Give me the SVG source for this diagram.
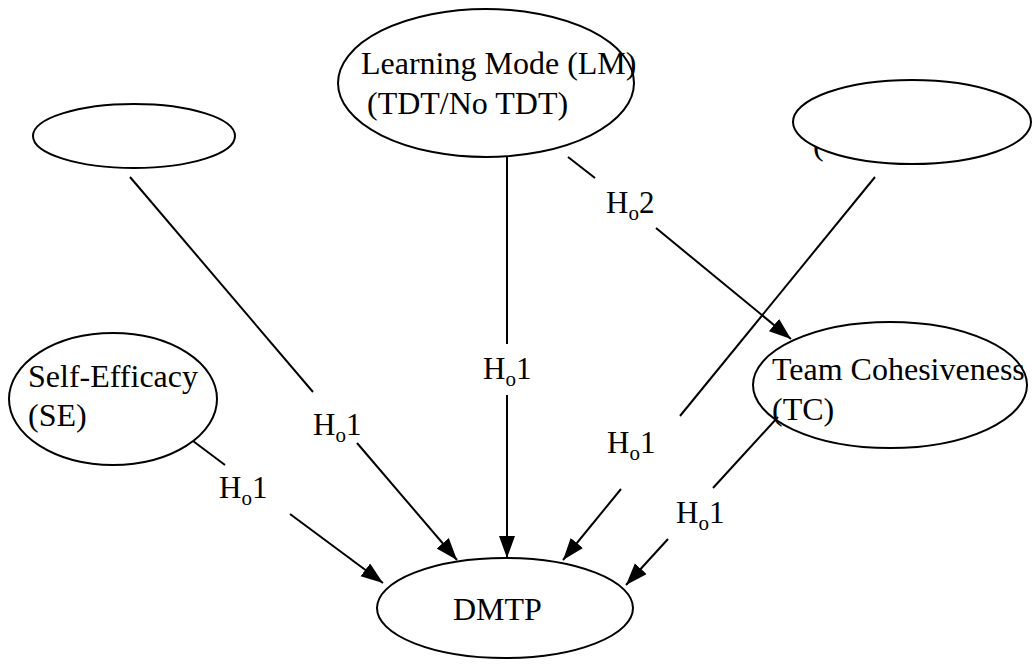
<svg xmlns="http://www.w3.org/2000/svg" width="1032" height="664" viewBox="0 0 1032 664">
<style>
.n{fill:#fff;stroke:#000;stroke-width:2}
.t{font-family:"Liberation Serif","Times New Roman",serif;font-size:32px;fill:#000}
.l{font-family:"Liberation Serif","Times New Roman",serif;font-size:31px;fill:#000}
.c line{stroke:#000;stroke-width:2}
.a{marker-end:url(#ah)}
</style>
<defs>
<marker id="ah" markerUnits="userSpaceOnUse" markerWidth="24" markerHeight="18" refX="22" refY="8" orient="auto">
<path d="M0,0 L22,8 L0,16 Z" fill="#000"/>
</marker>
</defs>
<rect width="1032" height="664" fill="#fff"/>
<g id="node-topleft"><ellipse class="n" cx="134" cy="136" rx="101" ry="32"/></g>
<g id="node-lm"><ellipse class="n" cx="486" cy="83" rx="148" ry="74"/>
<text class="t" x="361" y="74">Learning Mode (LM)</text>
<text class="t" x="367" y="114">(TDT/No TDT)</text></g>
<g id="node-topright"><text class="t" x="813" y="155">(</text><ellipse class="n" cx="912" cy="122" rx="119" ry="42"/></g>
<g id="node-se"><ellipse class="n" cx="113" cy="399" rx="104" ry="66"/>
<text class="t" x="28" y="387">Self-Efficacy</text>
<text class="t" x="28" y="426">(SE)</text></g>
<g id="node-tc"><ellipse class="n" cx="890" cy="385" rx="137" ry="63"/>
<text class="t" x="772" y="380">Team Cohesiveness</text>
<text class="t" x="772" y="420">(TC)</text></g>
<g id="node-dmtp"><ellipse class="n" cx="505" cy="608" rx="128" ry="50"/>
<text class="t" x="453" y="620">DMTP</text></g>
<g id="connectors" class="c">
<line x1="130" y1="177" x2="313" y2="392"/><line class="a" x1="357" y1="443" x2="457" y2="560"/>
<line x1="507" y1="157" x2="507" y2="344"/><line class="a" x1="507" y1="395" x2="507" y2="558"/>
<line x1="568" y1="157" x2="595" y2="178"/><line class="a" x1="656" y1="228" x2="791" y2="339"/>
<line x1="875" y1="177" x2="680" y2="416"/><line class="a" x1="621" y1="489" x2="563" y2="560"/>
<line x1="778" y1="417" x2="713" y2="488"/><line class="a" x1="668" y1="539" x2="626" y2="585"/>
<line x1="193" y1="441" x2="225" y2="465"/><line class="a" x1="290" y1="514" x2="383" y2="583"/>
</g>
<g id="labels">
<text class="l" x="313" y="435">H<tspan font-size="21" dy="7">o</tspan><tspan dy="-7">1</tspan></text>
<text class="l" x="483" y="379">H<tspan font-size="21" dy="7">o</tspan><tspan dy="-7">1</tspan></text>
<text class="l" x="606" y="213">H<tspan font-size="21" dy="7">o</tspan><tspan dy="-7">2</tspan></text>
<text class="l" x="607" y="453">H<tspan font-size="21" dy="7">o</tspan><tspan dy="-7">1</tspan></text>
<text class="l" x="676" y="523">H<tspan font-size="21" dy="7">o</tspan><tspan dy="-7">1</tspan></text>
<text class="l" x="219" y="498">H<tspan font-size="21" dy="7">o</tspan><tspan dy="-7">1</tspan></text>
</g>
</svg>
